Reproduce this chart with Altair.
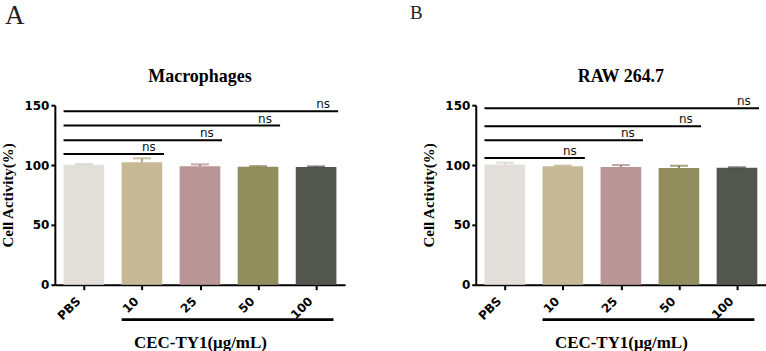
import altair as alt
import pandas as pd

# Treatment groups and bar colours
groups = ["PBS", "10", "25", "50", "100"]
bar_colors = ["#E2DFDA", "#C6B995", "#BA9596", "#918D5C", "#53554F"]
err_colors = ["#D2CEC8", "#B5A77F", "#A98284", "#7F7B4C", "#45473F"]

# Cell activity (%) mean and SD per group
mac_mean = [100.3, 102.3, 99.0, 98.5, 98.3]
mac_err = [0.5, 3.3, 1.5, 0.6, 0.5]
raw_mean = [100.5, 99.0, 98.3, 97.6, 97.8]
raw_err = [1.5, 0.5, 1.7, 1.8, 0.3]

# Significance brackets: PBS versus each concentration
compared = ["10", "25", "50", "100"]
mac_sig_y = [109.2, 120.8, 133.0, 145.0]
raw_sig_y = [105.8, 120.8, 132.5, 147.5]
sig_labels = ["ns", "ns", "ns", "ns"]

SERIF = "Liberation Serif"
SANS = "DejaVu Sans"
W, H = 291, 180


def panel(title, letter, letter_size, letter_dx, letter_offset, means, errs, sig_y):
    bars = pd.DataFrame({
        "group": groups,
        "idx": list(range(len(groups))),
        "mean": means,
        "err": errs,
        "fill": bar_colors,
        "ecol": err_colors,
    })
    sig = pd.DataFrame({
        "target": compared,
        "idx": [groups.index(c) for c in compared],
        "y": sig_y,
        "label": sig_labels,
    })

    xscale = alt.Scale(domain=[0, len(groups)], nice=False, zero=False)
    yscale = alt.Scale(domain=[0, 150], nice=False)
    label_expr = "['" + "','".join(groups) + "'][floor(datum.value)]"

    base = alt.Chart(bars).transform_calculate(
        x0="datum.idx + 0.15", x1="datum.idx + 0.85", xc="datum.idx + 0.5",
        top="datum.mean + datum.err",
    )

    bar_layer = base.mark_bar().encode(
        x=alt.X("x0:Q", scale=xscale, title="CEC-TY1(μg/mL)",
                axis=alt.Axis(values=[0.5, 1.5, 2.5, 3.5, 4.5], labelExpr=label_expr,
                              labelAngle=-45, labelAlign="right", labelBaseline="middle",
                              labelFont=SANS, labelFontWeight="bold", labelFontSize=12,
                              labelPadding=9, labelOffset=-6, tickSize=5, grid=False,
                              titleFont=SERIF, titleFontWeight="bold", titleFontSize=17,
                              titlePadding=13)),
        x2="x1:Q",
        y=alt.Y("mean:Q", scale=yscale, title="Cell Activity(%)",
                axis=alt.Axis(values=[0, 50, 100, 150], grid=False, tickSize=4,
                              labelFont=SANS, labelFontWeight="bold", labelFontSize=12,
                              labelPadding=2,
                              titleFont=SERIF, titleFontWeight="bold", titleFontSize=15,
                              titlePadding=8)),
        y2=alt.datum(0),
        color=alt.Color("fill:N", scale=None),
    )

    err_line = base.mark_rule(strokeWidth=2).encode(
        x="xc:Q", y="mean:Q", y2="top:Q", color=alt.Color("ecol:N", scale=None),
    )
    err_cap = base.mark_tick(orient="horizontal", size=18, thickness=2).encode(
        x="xc:Q", y="top:Q", color=alt.Color("ecol:N", scale=None),
    )

    sig_base = alt.Chart(sig).transform_calculate(
        s0="0.15", s1="min(datum.idx + 0.88, 5)", tx="datum.idx + 0.62",
    )
    sig_lines = sig_base.mark_rule(strokeWidth=2, color="black").encode(
        x="s0:Q", x2="s1:Q", y="y:Q",
    )
    sig_text = sig_base.mark_text(font=SANS, fontSize=12, baseline="bottom", dy=0,
                                  color="#111").encode(
        x="tx:Q", y="y:Q", text="label:N",
    )

    # bracket under the concentration groups
    bracket = alt.Chart(pd.DataFrame({"a": [1.15], "b": [4.8]})).mark_rule(
        strokeWidth=3, color="black").encode(
        x="a:Q", x2="b:Q", y=alt.value(H + 35),
    )

    # panel heading
    heading = alt.Chart(pd.DataFrame({"t": [title]})).mark_text(
        font=SERIF, fontSize=18, fontWeight="bold", baseline="middle",
        color="black").encode(
        x=alt.value(W / 2), y=alt.value(-28), text="t:N",
    )

    return alt.layer(bar_layer, err_line, err_cap, sig_lines, sig_text, bracket, heading).properties(
        width=W, height=H,
        title=alt.TitleParams(letter, font=SERIF, fontSize=letter_size, fontWeight="normal",
                              color="#222", anchor="start", dx=letter_dx, offset=letter_offset),
    )


left = panel("Macrophages", "A", 27, 4, 38, mac_mean, mac_err, mac_sig_y)
right = panel("RAW 264.7", "B", 19, -12, 45, raw_mean, raw_err, raw_sig_y)

chart = alt.hconcat(left, right, spacing=64).properties(
    padding={"left": 0, "top": 2, "right": 0, "bottom": 0},
    background="white",
).configure_view(stroke=None).configure_axis(
    domainColor="black", domainWidth=2, tickColor="black", tickWidth=2,
    labelColor="black", titleColor="black",
)

chart.save("out.html", embed_options={"renderer": "svg", "actions": False})
